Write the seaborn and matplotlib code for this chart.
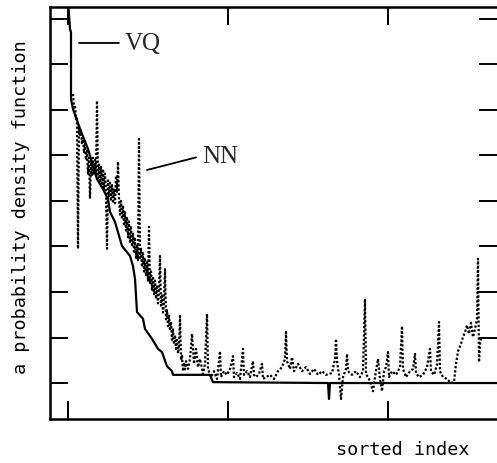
import matplotlib
matplotlib.use("Agg")
import matplotlib.pyplot as plt
import seaborn as sns
import pandas as pd

# ---- data (sorted index, density) ----
vq_x = [0, 2, 3, 3, 5, 12, 20, 29, 35, 40, 42, 47, 54, 62, 65, 67, 69, 75, 77, 84,
        90, 94, 99, 104, 105, 142, 145, 260, 261, 262, 429]
vq_y = [8.4, 7.78, 7.7, 6.24, 6.02, 5.58, 5.14, 4.48, 4.26, 4.04, 3.76, 3.54, 3.01,
        2.79, 2.57, 2.29, 1.56, 1.41, 1.19, 0.97, 0.75, 0.68, 0.37, 0.26, 0.18, 0.18,
        0.02, 0.0, -0.35, 0.0, 0.0]

nn_x = list(range(5, 119)) + [
        120, 122, 124, 126, 128, 130, 132, 135, 137, 139, 140, 143, 146, 149, 152,
        153, 156, 159, 162, 165, 166, 169, 172, 175, 176, 179, 182, 185, 186, 188, 191,
        194, 195, 198, 202, 206, 210, 214, 217, 218, 219, 222, 224, 226, 230, 234, 238,
        242, 246, 250, 254, 258, 264, 267, 268, 269, 271, 273, 275, 278, 279, 280, 284,
        288, 292, 295, 297, 298, 301, 305, 307, 310, 312, 314, 316, 318, 320, 321, 324,
        328, 332, 334, 335, 338, 342, 345, 347, 348, 351, 355, 359, 362, 363, 366, 369,
        371, 372, 375, 379, 383, 386, 388, 390, 393, 395, 397, 399, 401, 403, 405, 407,
        409, 410, 411, 412, 413]
nn_y = [6.35, 6.05, 6.10, 5.80, 5.85, 2.95, 5.65, 5.45, 5.55, 5.25,   # 5-14
        5.40, 5.05, 5.25, 4.90, 5.10, 4.60, 4.95, 4.05, 4.90, 4.55,   # 15-24
        4.95, 4.60, 4.90, 4.55, 6.20, 4.50, 4.80, 4.40, 4.75, 4.30,   # 25-34
        4.70, 4.25, 4.60, 4.20, 2.95, 4.45, 4.10, 4.40, 4.00, 4.35,   # 35-44
        3.95, 4.25, 3.95, 4.55, 4.20, 4.86, 4.05, 3.70, 4.00, 3.60,   # 45-54
        3.90, 3.45, 3.75, 3.35, 3.65, 3.20, 3.55, 3.10, 3.45, 3.00,   # 55-64
        3.30, 2.85, 3.20, 2.75, 3.05, 2.70, 5.36, 2.75, 2.95, 2.55,   # 65-74
        2.85, 2.45, 2.75, 2.35, 2.65, 2.25, 3.43, 2.20, 2.45, 2.05,   # 75-84
        2.35, 1.95, 2.25, 1.85, 2.15, 1.75, 2.05, 2.79, 1.70, 1.95,   # 85-94
        1.55, 1.80, 2.50, 1.40, 1.60, 1.25, 1.50, 1.15, 1.35, 0.95,   # 95-104
        1.20, 0.85, 1.05, 0.75, 0.95, 0.65, 0.80, 1.47, 0.50, 0.60,   # 105-114
        0.26, 0.45, 0.30, 0.48,                                       # 115-118
        0.31, 0.53, 1.08, 0.42, 0.75, 0.35,
        0.53, 0.20, 0.42, 1.52, 0.31, 0.13, 0.26, 0.09, 0.70, 0.13, 0.26, 0.18, 0.31,
        0.59, 0.13, 0.22, 0.09, 0.75, 0.18, 0.26, 0.13, 0.48, 0.18, 0.13, 0.20, 0.42,
        0.09, 0.13, 0.18, 0.09, 0.26, 0.35, 0.53, 1.12, 0.48, 0.31, 0.57, 0.26, 0.42,
        0.26, 0.35, 0.20, 0.31, 0.18, 0.26, 0.18, 0.22, 0.53, 0.97, 0.48, 0.18, -0.35,
        0.13, 0.31, 0.64, 0.26, 0.18, 0.26, 0.13, 0.26, 1.85, 0.20, 0.09, -0.18, 0.13,
        0.53, 0.09, -0.18, 0.26, 0.35, 0.68, 0.13, 0.26, 0.18, 0.35, 1.25, 0.31, 0.13,
        0.26, 0.31, 0.64, 0.22, 0.13, 0.18, 0.35, 0.75, 0.26, 0.18, 0.40, 1.34, 0.26,
        0.13, 0.09, 0.0, 0.02, 0.42, 0.70, 0.86, 1.01, 1.12, 1.27, 1.08, 1.32, 1.01,
        1.19, 1.41, 2.73, 0.46, 0.86, 0.97]

x_ticks = [0, 160, 320]
y_ticks = [0, 1, 2, 3, 4, 5, 6, 7, 8]
x_label = "sorted index"
y_label = "a probability density function"

vq = pd.DataFrame({"index": vq_x, "density": vq_y})
nn = pd.DataFrame({"index": nn_x, "density": nn_y})

sns.set_style("white")
plt.rcParams["font.family"] = ["DejaVu Sans Mono", "DejaVu Sans"]

fig = plt.figure(figsize=(4.97, 4.64), dpi=100)
ax = fig.add_axes([50 / 497, 1 - 420 / 464, 447 / 497, 412 / 464])

sns.lineplot(data=nn, x="index", y="density", ax=ax, estimator=None, sort=False,
             color="black", linewidth=1.6, linestyle=(0, (1, 0.9)))
sns.lineplot(data=vq, x="index", y="density", ax=ax, estimator=None, sort=False,
             color="black", linewidth=1.6)

ax.set_xlim(-18, 429)
ax.set_ylim(-0.79, 8.26)
ax.set_xticks(x_ticks)
ax.set_yticks(y_ticks)
ax.set_xticklabels([])
ax.set_yticklabels([])
ax.tick_params(axis="both", which="both", direction="in", length=13, width=1.4,
               color="black", top=True, bottom=True, left=True, right=True)

for side in ["left", "top", "bottom"]:
    ax.spines[side].set_visible(True)
    ax.spines[side].set_color("black")
    ax.spines[side].set_linewidth(1.8)
ax.spines["right"].set_visible(False)

ax.set_xlabel(x_label, fontsize=13.3, color="black")
ax.xaxis.set_label_coords(0.79, -0.05)
ax.set_ylabel(y_label, fontsize=13.3, color="black")
ax.yaxis.set_label_coords(-0.045, 0.516)

ax.annotate("VQ", xy=(11, 7.47), xytext=(57, 7.47), ha="left", va="center",
            fontsize=18, family="Liberation Serif",
            arrowprops=dict(arrowstyle="-", color="black", lw=1.3,
                            shrinkA=2, shrinkB=0, relpos=(0, 0.5)))
ax.annotate("NN", xy=(79, 4.68), xytext=(134, 4.99), ha="left", va="center",
            fontsize=18, family="Liberation Serif",
            arrowprops=dict(arrowstyle="-", color="black", lw=1.3,
                            shrinkA=2, shrinkB=0, relpos=(0, 0.5)))

fig.savefig("out.png", dpi=100, facecolor="white")
